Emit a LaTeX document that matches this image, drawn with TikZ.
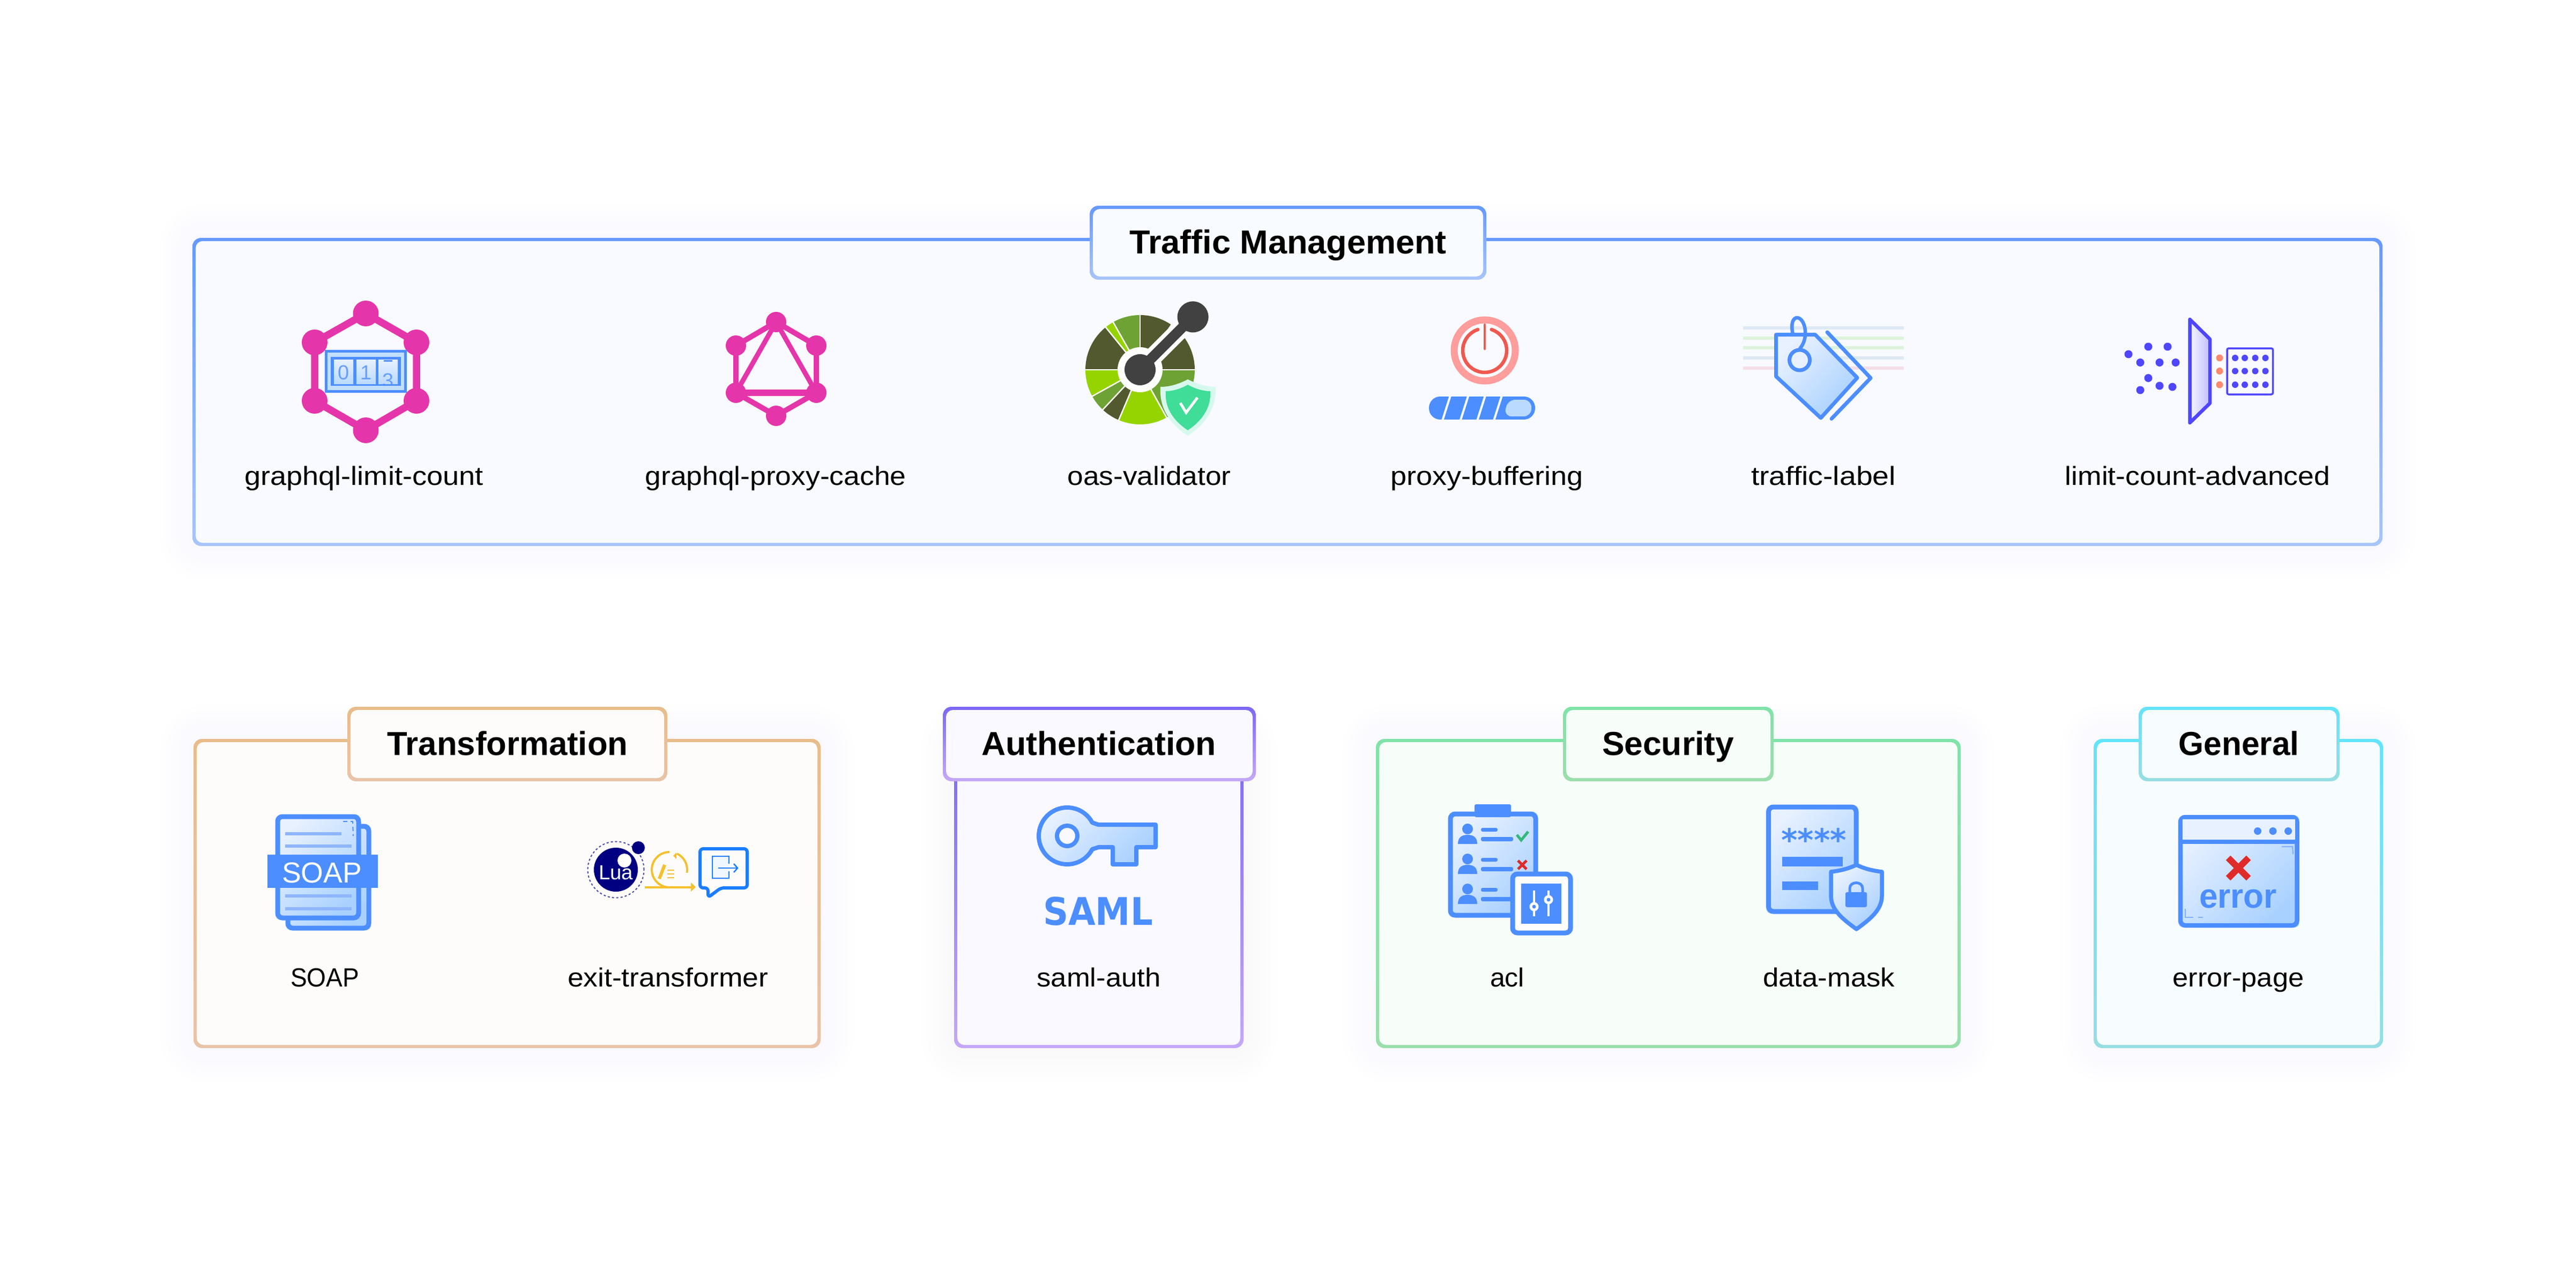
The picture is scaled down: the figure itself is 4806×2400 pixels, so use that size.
\documentclass[tikz,border=0pt]{standalone}
\usepackage{fontspec}
\setmainfont{Liberation Sans}
\newfontfamily\dejavu{DejaVu Sans}
\definecolor{blu}{HTML}{4C8EFF}
\definecolor{icA}{HTML}{E8F1FF}
\definecolor{icB}{HTML}{A9D1FF}
\definecolor{gql}{HTML}{E535AB}
\definecolor{barc}{HTML}{8FB6FB}
\definecolor{indi}{HTML}{4F46FF}
\definecolor{olive}{HTML}{52592E}
\definecolor{mgreen}{HTML}{6EA234}
\definecolor{bgreen}{HTML}{96D400}
\definecolor{hubc}{HTML}{414141}
\definecolor{yel}{HTML}{F5C02C}
\definecolor{navy}{HTML}{000080}
\definecolor{redx}{HTML}{E02B2B}
\tikzset{
  iconfill/.style={top color=icA,bottom color=icB,shading angle=45},
  txt/.style={anchor=base,inner sep=0pt,outer sep=0pt,text=black},
}
% name, x, baseline, ink width, text
\newcommand{\itemlabel}[5]{\node[txt] (#1) at (#2,#3) {\resizebox{#4pt}{\height}{\fontsize{49}{58}\selectfont #5}};}
\newcommand{\titlelabel}[5]{\node[txt] (#1) at (#2,#3) {\resizebox{#4pt}{\height}{\fontsize{62}{72}\selectfont\bfseries #5}};}
% x1 y1 x2 y2 colour
\newcommand{\glow}[5]{%
  \foreach \i in {1,...,6}{%
    \pgfmathsetmacro{\e}{\i*11}\pgfmathsetmacro{\rr}{18+\e}%
    \fill[#5,opacity=.004,rounded corners=\rr pt] ({#1-\e},{#2-\e}) rectangle ({#3+\e},{#4+\e});}}
\newcommand{\panel}[7]{%
  \shade[top color=#5,bottom color=#6,rounded corners=16pt] ({#1-3},{#2-3}) rectangle ({#3+3},{#4+3});
  \fill[#7,rounded corners=13pt] ({#1+3},{#2+3}) rectangle ({#3-3},{#4-3});}
\begin{document}
\begin{tikzpicture}[x=1pt,y=-1pt]
\useasboundingbox (0,0) rectangle (4806,2400);
\fill[white] (0,0) rectangle (4806,2400);
% ---------- glows
\glow{362}{447}{4442}{1016}{blue!70!cyan}
\glow{364}{1382}{1528}{1953}{blue!70!cyan}
\glow{1783}{1382}{2317}{1953}{blue!70!violet}
\glow{2570}{1382}{3655}{1953}{blue!70!cyan}
\glow{3909}{1382}{4443}{1953}{blue!70!cyan}
% ---------- panels
\definecolor{tA}{HTML}{6699FF}\definecolor{tB}{HTML}{A8C5FA}\definecolor{tF}{HTML}{F8FAFF}\definecolor{tG}{HTML}{F8FBFF}
\definecolor{oA}{HTML}{E9BC8A}\definecolor{oB}{HTML}{E9C3A8}\definecolor{oF}{HTML}{FDFCFA}
\definecolor{pA}{HTML}{7B68F5}\definecolor{pB}{HTML}{C4A8F8}\definecolor{pF}{HTML}{F9F9FF}
\definecolor{gA}{HTML}{7FE3A8}\definecolor{gB}{HTML}{9ADFAB}\definecolor{gF}{HTML}{F7FDF9}
\definecolor{cA}{HTML}{62E4FA}\definecolor{cB}{HTML}{96DEE3}\definecolor{cF}{HTML}{F7FCFE}
\panel{362}{447}{4442}{1016}{tA}{tB}{tF}
\panel{2036}{387}{2770}{519}{tA}{tB}{tG}
\titlelabel{tTraffic}{2403}{473.5}{592}{Traffic Management}
\panel{364}{1382}{1528}{1953}{oA}{oB}{oF}
\panel{651}{1322}{1242}{1455}{oA}{oB}{oF}
\titlelabel{tTrans}{947}{1409}{449}{Transformation}
\panel{1783}{1382}{2317}{1953}{pA}{pB}{pF}
\panel{1762}{1322}{2340}{1455}{pA}{pB}{pF}
\titlelabel{tAuth}{2050}{1409}{438}{Authentication}
\panel{2570}{1382}{3655}{1953}{gA}{gB}{gF}
\panel{2919}{1322}{3306}{1455}{gA}{gB}{gF}
\titlelabel{tSec}{3112}{1409}{246}{Security}
\panel{3909}{1382}{4443}{1953}{cA}{cB}{cF}
\panel{3993}{1322}{4362}{1455}{cA}{cB}{cF}
\titlelabel{tGen}{4177}{1409}{225}{General}
% ---------- labels
\itemlabel{a1}{679}{905}{445}{graphql-limit-count}
\itemlabel{a2}{1447}{905}{487}{graphql-proxy-cache}
\itemlabel{a3}{2144}{905}{305}{oas-validator}
\itemlabel{a4}{2774}{905}{360}{proxy-buffering}
\itemlabel{a5}{3402}{905}{270}{traffic-label}
\itemlabel{a6}{4100}{905}{495}{limit-count-advanced}
\itemlabel{b1}{606}{1841}{128}{SOAP}
\itemlabel{b2}{1246}{1841}{374}{exit-transformer}
\itemlabel{b3}{2050}{1841}{231}{saml-auth}
\itemlabel{b4}{2812}{1841}{64}{acl}
\itemlabel{b5}{3412}{1841}{246}{data-mask}
\itemlabel{b6}{4176}{1841}{245}{error-page}
% ---------- graphql-limit-count
\draw[gql,line width=13.5pt] (682.5,585) -- (777,639) -- (777,748) -- (682.5,803) -- (587,748) -- (587,639) -- cycle;
\foreach \p in {(682.5,585),(777,639),(777,748),(682.5,803),(587,748),(587,639)} \fill[gql] \p circle (24pt);
\fill[blu] (606,653) rectangle (759,733);
\fill[icB!70!white] (611,658) rectangle (754,728);
\fill[blu] (617,666) rectangle (748,720);
\foreach \xa/\xb in {623/659,665/701,706/742} \shade[top color=icA,bottom color=icB!80!white] (\xa,671) rectangle (\xb,716);
\node[inner sep=0pt,text=blu!85!white] (d0) at (641,695) {\fontsize{38}{38}\selectfont 0};
\node[inner sep=0pt,text=blu!85!white] (d1) at (683,695) {\fontsize{38}{38}\selectfont 1};
\begin{scope}
\clip (706,671) rectangle (742,716);
\node[inner sep=0pt,text=blu!85!white] (d3) at (724,710) {\fontsize{38}{38}\selectfont 3};
\fill[blu] (716,672) rectangle (732,675);
\end{scope}
% ---------- graphql-proxy-cache
\draw[gql,line width=10pt] (1448,601) -- (1523,645) -- (1523,733) -- (1448,776) -- (1373,733) -- (1373,645) -- cycle;
\draw[gql,line width=9pt,line join=round] (1448,601) -- (1523,733) (1448,601) -- (1373,733);
\draw[gql,line width=12pt] (1373,733) -- (1523,733);
\foreach \p in {(1448,601),(1523,645),(1523,733),(1448,776),(1373,733),(1373,645)} \fill[gql] \p circle (19pt);
% ---------- oas-validator
\begin{scope}[shift={(2127,690)},y=1pt]
\foreach \a/\b/\c in {180/129/olive,129/119.5/bgreen,119.5/90/mgreen,90/55/olive,55/0/olive,0/-61/mgreen,-61/-113/bgreen,-113/-133/olive,-133/-151/mgreen,-151/-180/bgreen}
  \fill[\c] (0,0) -- (\a:102) arc[start angle=\a,end angle=\b,radius=102pt] -- cycle;
\foreach \a in {180,129,119.5,90,55,0,-61,-113,-133,-151}
  \draw[white,line width=2.5pt] (0,0) -- (\a:103);
\draw[white,line width=34pt] (0,0) -- (98.6,98.6);
\fill[white] (0,0) circle (42pt);
\draw[hubc,line width=19pt] (0,0) -- (98.6,98.6);
\fill[hubc] (0,0) circle (29pt);
\fill[hubc] (98.6,98.6) circle (29pt);
\end{scope}
\definecolor{shOut}{HTML}{D8F8EE}\definecolor{shIn}{HTML}{3FDD97}
\fill[shOut] (2216,708) .. controls (2235,718) and (2255,722) .. (2268,722) .. controls (2270,765) and (2245,795) .. (2216,813) .. controls (2187,795) and (2162,765) .. (2165,722) .. controls (2180,722) and (2197,718) .. (2216,708) -- cycle;
\fill[shIn] (2216,718) .. controls (2232,727) and (2247,730) .. (2258,730) .. controls (2260,763) and (2240,787) .. (2216,803) .. controls (2192,787) and (2172,763) .. (2175,730) .. controls (2186,730) and (2200,727) .. (2216,718) -- cycle;
\draw[white,line width=5pt] (2202,752) -- (2213,770) -- (2234,742);
% ---------- proxy-buffering
\definecolor{pwA}{HTML}{FF9C9C}\definecolor{pwB}{HTML}{F0584F}
\draw[pwA,line width=13pt] (2770,654) circle (57pt);
\begin{scope}[shift={(2770,654)},y=1pt]
\draw[pwB,line width=6.5pt,line cap=round] (108:41) arc[start angle=108,end angle=432,radius=41pt];
\draw[pwB,line width=4.5pt,line cap=round] (0,48) -- (0,3);
\end{scope}
\begin{scope}
\clip[rounded corners=21pt] (2666,740) rectangle (2864,783);
\fill[blu] (2666,740) rectangle (2864,783);
\foreach \xx in {2706,2739.5,2771,2802} \draw[tF,line width=4pt] (\xx,738) -- (\xx-15,785);
\end{scope}
\fill[icB!80!white,rounded corners=14pt] (2813,746) -- (2857,746) -- (2857,777) -- (2806,777) -- cycle;
% ---------- traffic-label
\definecolor{lnA}{HTML}{DDE9F4}\definecolor{lnB}{HTML}{DDF3DC}\definecolor{lnC}{HTML}{F5DEE8}
\foreach \yy/\c in {611.5/lnA,630.5/lnB,649/lnB,668/lnA,687/lnC} \fill[\c] (3252,\yy-3) rectangle (3552,\yy+3);
\draw[blu,line width=7pt,line cap=round,line join=round] (3409,620) -- (3490,705.5) -- (3417,781.5);
\shade[iconfill] (3313.5,624.5) -- (3386.5,624.5) -- (3465,705) -- (3397,780) -- (3313.5,702.5) -- cycle;
\draw[blu,line width=7pt,line join=round] (3313.5,624.5) -- (3386.5,624.5) -- (3465,705) -- (3397,780) -- (3313.5,702.5) -- cycle;
\draw[blu,line width=6.5pt] (3345,624) .. controls (3335,580) and (3370,585) .. (3368,625) .. controls (3367,640) and (3360,648) .. (3357,652);
\draw[blu,line width=7pt,fill=icA] (3357.5,672) circle (19pt);
% ---------- limit-count-advanced
\foreach \p in {(3971,661),(4008,647),(4044,647),(3993,676.5),(4029,676.5),(4059,676.5),(4008,705.5),(4029,720),(4053,722),(3993,728)} \fill[indi] \p circle (7.5pt);
\shade[left color=indi!5!white,right color=indi!35!white] (4085.5,596) -- (4123,633) -- (4123,752.5) -- (4085.5,789) -- cycle;
\draw[indi,line width=6.5pt,line join=round] (4085.5,596) -- (4123,633) -- (4123,752.5) -- (4085.5,789) -- cycle;
\definecolor{orng}{HTML}{FF8A6E}
\foreach \yy in {668,692.5,718} \fill[orng] (4141,\yy) circle (6.5pt);
\draw[indi,line width=3.5pt,rounded corners=3pt,fill=tF] (4155,650) rectangle (4240.5,736);
\foreach \xx in {4170,4188,4207.5,4226.5} \foreach \yy in {668,692.5,718} \fill[indi] (\xx,\yy) circle (6pt);
% ---------- SOAP
\shade[iconfill,rounded corners=9pt] (533,1538) rectangle (692,1736);
\draw[blu,line width=9pt,rounded corners=9pt] (537,1542) rectangle (688,1732);
\shade[iconfill,rounded corners=9pt] (514,1520) rectangle (673,1717);
\draw[blu,line width=9pt,rounded corners=9pt] (518,1524) rectangle (669,1713);
\foreach \yy/\xe in {1556/637,1579/656,1672/656,1695.5/656} \fill[barc] (532,\yy-3) rectangle (\xe,\yy+3);
\fill[blu] (499,1595) rectangle (705,1656.5);
\draw[blu,line width=2pt,dash pattern=on 8pt off 6pt] (640,1533) -- (658,1533) -- (659,1560);
\node[anchor=base,inner sep=0pt,text=white] (soapt) at (600.5,1647) {\resizebox{149pt}{\height}{\fontsize{54}{60}\selectfont SOAP}};
% ---------- exit-transformer
\draw[navy!70!white,line width=2pt,dash pattern=on 4pt off 4pt] (1149,1623) circle (52.5pt);
\fill[navy] (1149,1623) circle (41pt);
\fill[white] (1165,1606) circle (13pt);
\fill[navy] (1191,1582) circle (12pt);
\node[anchor=base,inner sep=0pt,text=white] (luat) at (1149,1641) {\resizebox{64pt}{\height}{\fontsize{38}{42}\selectfont Lua}};
\begin{scope}[shift={(1249,1623)},y=1pt]
\draw[yel,line width=4pt] (-80:33) arc[start angle=-80,end angle=-270,radius=33pt];
\draw[yel,line width=4pt] (-10:33) arc[start angle=-10,end angle=65,radius=33pt];
\end{scope}
\fill[yel] (1262,1591) -- (1262,1603) -- (1256,1597) -- cycle;
\draw[yel,line width=4pt] (1203,1655.5) -- (1290,1655.5);
\fill[yel] (1289,1647) -- (1298,1655.5) -- (1289,1664) -- cycle;
\draw[yel,line width=6pt] (1240,1614) -- (1230,1640);
\foreach \yy in {1624,1631,1638} \draw[yel,line width=2.5pt] (1245,\yy) -- (1258,\yy);
\definecolor{chatb}{HTML}{1A7EFF}
\draw[chatb,line width=6pt,line join=round,fill=oF,rounded corners=6pt] (1306,1584) -- (1394,1584) -- (1394,1657) -- (1345,1657) -- (1321,1675) -- (1321,1657) -- (1306,1657) -- cycle;
\draw[chatb,line width=2.5pt,fill=icA!60!white] (1360,1612) -- (1360,1598) -- (1329,1598) -- (1329,1639) -- (1360,1639) -- (1360,1626);
\draw[chatb,line width=2.5pt] (1340,1620) -- (1376,1620);
\draw[chatb,line width=2.5pt] (1369,1612) -- (1376,1620) -- (1369,1628);
% ---------- saml-auth key
\begin{scope}[shift={(1991,1560)},y=1pt]
\shade[iconfill] (28:53) arc[start angle=28,end angle=332,radius=53pt] -- (59,-21) -- (85,-21) -- (85,-53) -- (129,-53) -- (129,-21) -- (165,-21) -- (165,21) -- (58,21) -- cycle;
\draw[blu,line width=8pt,line join=round] (28:53) arc[start angle=28,end angle=332,radius=53pt] -- (59,-21) -- (85,-21) -- (85,-53) -- (129,-53) -- (129,-21) -- (165,-21) -- (165,21) -- (58,21) -- cycle;
\draw[blu,line width=8pt,fill=pF] (0,0) circle (19pt);
\end{scope}
\node[anchor=base,inner sep=0pt,text=blu] (samlt) at (2048.5,1726) {\resizebox{205pt}{\height}{\dejavu\fontsize{71}{76}\selectfont\bfseries SAML}};
% ---------- acl
\shade[iconfill,rounded corners=9pt] (2702,1515) rectangle (2869,1712);
\draw[blu,line width=9pt,rounded corners=9pt] (2706,1519) rectangle (2865,1708);
\fill[blu,rounded corners=3pt] (2751,1501) rectangle (2819,1525);
\foreach \dy in {0,56,112}{
  \fill[blu] (2738,1547+\dy) circle (10pt);
  \fill[blu] (2720,1575+\dy) .. controls (2720,1562+\dy) and (2728,1558+\dy) .. (2738,1558+\dy) .. controls (2748,1558+\dy) and (2756,1562+\dy) .. (2756,1575+\dy) -- cycle;
  \fill[blu,rounded corners=3pt] (2763,1545+\dy) rectangle (2794,1552+\dy);
  \fill[blu,rounded corners=3pt] (2763,1562+\dy) rectangle (2823,1570+\dy);
}
\draw[teal!70!green!80!white,line width=5pt] (2830,1558) -- (2838,1568) -- (2851,1552);
\draw[redx,line width=5pt] (2832,1606) -- (2848,1622) (2848,1606) -- (2832,1622);
\draw[blu,line width=9pt,fill=white,rounded corners=9pt] (2822,1631) rectangle (2930,1741);
\fill[blu] (2838,1649) rectangle (2913,1724);
\foreach \xx/\kk in {2862/1692,2889/1679}{
  \draw[white,line width=4pt] (\xx,1662) -- (\xx,1710);
  \fill[white] (\xx,\kk) circle (8.5pt);
  \fill[blu] (\xx,\kk) circle (3.5pt);
}
% ---------- data-mask
\shade[iconfill,rounded corners=9pt] (3295,1502) rectangle (3467,1705);
\draw[blu,line width=9pt,rounded corners=9pt] (3299.5,1506) rectangle (3463,1701);
\node[inner sep=0pt,text=blu] (stars) at (3384,1567) {\dejavu\fontsize{58}{60}\selectfont\bfseries ****};
\fill[blu] (3325,1599) rectangle (3438,1617);
\fill[blu] (3325,1645) rectangle (3392,1661);
\shade[iconfill] (3463.5,1614) .. controls (3480,1622) and (3495,1625) .. (3511,1627) -- (3511,1672) .. controls (3511,1700) and (3485,1718) .. (3463.5,1734) .. controls (3442,1718) and (3416,1700) .. (3416,1672) -- (3416,1627) .. controls (3432,1625) and (3447,1622) .. (3463.5,1614) -- cycle;
\draw[blu,line width=7.5pt,line join=round] (3463.5,1614) .. controls (3480,1622) and (3495,1625) .. (3511,1627) -- (3511,1672) .. controls (3511,1700) and (3485,1718) .. (3463.5,1734) .. controls (3442,1718) and (3416,1700) .. (3416,1672) -- (3416,1627) .. controls (3432,1625) and (3447,1622) .. (3463.5,1614) -- cycle;
\fill[blu,rounded corners=3pt] (3443,1665) rectangle (3483,1693);
\draw[blu,line width=5pt] (3451,1668) -- (3451,1658) .. controls (3451,1644) and (3475,1644) .. (3475,1658) -- (3475,1668);
% ---------- error-page
\shade[iconfill,rounded corners=9pt] (4064,1521) rectangle (4289.5,1731);
\draw[blu,line width=8.5pt,rounded corners=9pt] (4068,1525) rectangle (4285.5,1727);
\fill[icA] (4072,1529) rectangle (4281.5,1567);
\draw[blu,line width=8.5pt] (4066,1571) -- (4287,1571);
\foreach \xx in {4212,4240.5,4269} \fill[blu] (\xx,1551) circle (7pt);
\draw[redx,line width=12pt] (4157,1601) -- (4195,1639) (4195,1601) -- (4157,1639);
\node[anchor=base,inner sep=0pt,text=blu] (errt) at (4175.5,1694) {\resizebox{145pt}{\height}{\fontsize{64}{70}\selectfont\bfseries error}};
\draw[blu!70!white,line width=2pt] (4257,1580) -- (4277,1580) -- (4278,1594);
\draw[blu!70!white,line width=2pt] (4077,1696) -- (4077,1712) -- (4092,1712) (4101,1712) -- (4110,1712);
\end{tikzpicture}
\end{document}
